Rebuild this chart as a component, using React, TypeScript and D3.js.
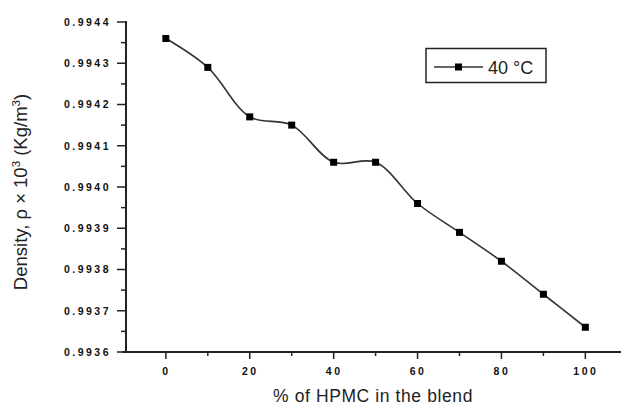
import React from "react";
import * as d3 from "d3";

// HPMC content (%) and measured density at 40 °C
const hpmcPercent = [0, 10, 20, 30, 40, 50, 60, 70, 80, 90, 100];
const density40 = [0.99436, 0.99429, 0.99417, 0.99415, 0.99406, 0.99406, 0.99396, 0.99389, 0.99382, 0.99374, 0.99366];

const xMajorTicks = [0, 20, 40, 60, 80, 100];
const xMinorTicks = [10, 30, 50, 70, 90];
const yMajorTicks = [0.9936, 0.9937, 0.9938, 0.9939, 0.994, 0.9941, 0.9942, 0.9943, 0.9944];
const yMinorTicks = [0.99365, 0.99375, 0.99385, 0.99395, 0.99405, 0.99415, 0.99425, 0.99435];

const legendLabel = "40 °C";
const xTitle = "% of HPMC in the blend";

const W = 628;
const H = 405;

export default function App() {
  const x = d3.scaleLinear().domain([-9.5, 108.5]).range([126, 621]);
  const y = d3.scaleLinear().domain([0.9936, 0.9944]).range([352, 22]);

  const pts = hpmcPercent.map((p, i) => [x(p), y(density40[i])] as [number, number]);
  const path = d3.line().curve(d3.curveCatmullRom.alpha(0.5))(pts) || "";

  const tickFont = { fontFamily: "Liberation Sans, Arial, sans-serif", fontWeight: 700, fontSize: 10.5, letterSpacing: 2.5, fill: "#111" } as const;
  const ink = "#222";

  return (
    <svg width={W} height={H} style={{ position: "absolute", left: 0, top: 0, background: "#fff" }}>
      <rect x={0} y={0} width={W} height={H} fill="#fff" />
      {/* axes */}
      <line x1={126} y1={21} x2={126} y2={353} stroke={ink} strokeWidth={2} />
      <line x1={122} y1={352} x2={621} y2={352} stroke={ink} strokeWidth={2} />

      {/* y ticks */}
      {yMajorTicks.map((t) => (
        <g key={"ym" + t}>
          <line x1={117} x2={126} y1={y(t)} y2={y(t)} stroke={ink} strokeWidth={1.5} />
          <text x={111} y={y(t) + 3.8} textAnchor="end" {...tickFont}>
            {t.toFixed(4)}
          </text>
        </g>
      ))}
      {yMinorTicks.map((t) => (
        <line key={"yn" + t} x1={121} x2={126} y1={y(t)} y2={y(t)} stroke={ink} strokeWidth={1.5} />
      ))}

      {/* x ticks */}
      {xMajorTicks.map((t) => (
        <g key={"xm" + t}>
          <line x1={x(t)} x2={x(t)} y1={352} y2={359} stroke={ink} strokeWidth={1.5} />
          <text x={x(t) + 0.5} y={375} textAnchor="middle" {...tickFont}>
            {t}
          </text>
        </g>
      ))}
      {xMinorTicks.map((t) => (
        <line key={"xn" + t} x1={x(t)} x2={x(t)} y1={352} y2={356} stroke={ink} strokeWidth={1.5} />
      ))}

      {/* axis titles */}
      <text x={373} y={402} textAnchor="middle" fontFamily="Liberation Sans, Arial, sans-serif" fontSize={17.5} fill="#222" letterSpacing={0.6}>
        {xTitle}
      </text>
      <text
        transform={`translate(27, 192) rotate(-90)`}
        textAnchor="middle"
        fontFamily="Liberation Sans, Arial, sans-serif"
        fontSize={18.5}
        fill="#222"
      >
        Density, ρ × 10
        <tspan dy={-7} fontSize={11.5}>3</tspan>
        <tspan dy={7}> (Kg/m</tspan>
        <tspan dy={-7} fontSize={11.5}>3</tspan>
        <tspan dy={7}>)</tspan>
      </text>

      {/* series */}
      <path d={path} fill="none" stroke="#333" strokeWidth={1.6} />
      {pts.map(([px, py], i) => (
        <rect key={i} x={px - 3.5} y={py - 3.5} width={7} height={7} fill="#000" />
      ))}

      {/* legend */}
      <rect x={426} y={48.5} width={120} height={34} fill="#fff" stroke={ink} strokeWidth={1.5} />
      <line x1={434} x2={483} y1={67} y2={67} stroke="#333" strokeWidth={1.6} />
      <rect x={455} y={63.5} width={7} height={7} fill="#000" />
      <text x={488} y={74} fontFamily="Liberation Sans, Arial, sans-serif" fontSize={18} fill="#222">
        {legendLabel}
      </text>
    </svg>
  );
}
